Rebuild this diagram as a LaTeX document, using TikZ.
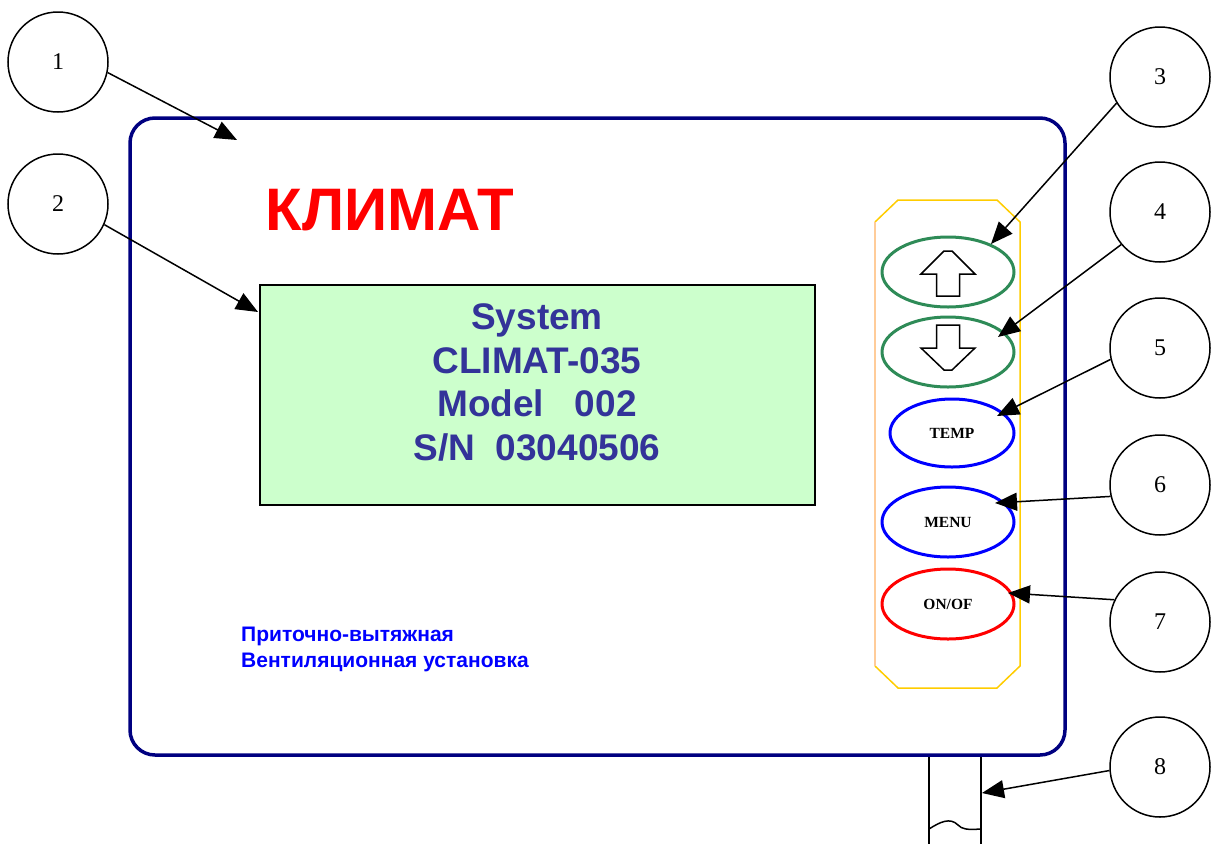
\documentclass[tikz,border=0pt]{standalone}
\usepackage{fontspec}
\setmainfont{Liberation Serif}
\setsansfont{Liberation Sans}
\usepackage{tikz}
\usetikzlibrary{shapes}
\usetikzlibrary{arrows.meta, positioning}
\definecolor{framenavy}{RGB}{0,0,128}
\definecolor{lcdgreen}{RGB}{204,255,204}
\definecolor{lcdblue}{RGB}{51,51,153}
\definecolor{keygreen}{RGB}{46,139,87}
\definecolor{panelgold}{RGB}{255,204,0}
\definecolor{panelpeach}{RGB}{255,204,153}

\begin{document}
\begin{tikzpicture}[x=1pt, y=-1pt,
    every path/.style = {},
    every node/.append style = {inner sep=0pt},
    callout/.style = {draw, circle, line width=1.5pt, minimum size=100pt,
      font=\fontsize{24}{28}\selectfont},
    pointer/.style = {line width=1.5pt, -{Triangle[length=22pt, width=18pt]}},
    key/.style = {draw, ellipse, line width=3pt, minimum width=132pt,
      minimum height=70pt, font=\bfseries\fontsize{15.5}{18}\selectfont}
  ]
 \useasboundingbox (0,0) rectangle (1213,844);

 % cable leaving the case
    \draw[line width=1.5pt] (929,755) -- (929,844);
    \draw[line width=1.5pt] (981,755) -- (981,844);
    \draw[line width=1.5pt] (929,829) .. controls (940,822) and (950,817) .. (958,825)
      .. controls (962,829) and (966,830) .. (981,829);

 % case
    \draw[framenavy, line width=3.5pt, rounded corners=25pt]
      (130,118) rectangle (1065,755);

    \node[red, font=\sffamily\bfseries\fontsize{60}{60}\selectfont] (brand) at (390,210) {КЛИМАТ};

 % display
    \node[draw, fill=lcdgreen, line width=1.5pt, minimum width=555pt,
      minimum height=220pt] (lcd) at (537.5,395) {};
    \node[lcdblue, align=center, font=\sffamily\bfseries\fontsize{37}{43.5}\selectfont]
      (lcdtext) at (537,382.5) {System\\CLIMAT-035\\Model\ \ \ 002\\S/N\ \ 03040506};

    \node[blue, anchor=north west, align=left,
      font=\sffamily\bfseries\fontsize{21}{26}\selectfont] (caption) at (241,627)
      {Приточно-вытяжная\\Вентиляционная установка};

 % key panel
    \draw[panelgold, line width=1.5pt] (875,222) -- (898,200) -- (997,200) -- (1020,222)
      -- (1020,666) -- (997,688) -- (898,688) -- (875,666);
    \draw[panelpeach, line width=1.5pt] (875,666) -- (875,222);

    \node[key, draw=keygreen] (up) at (948,272) {};
    \node[key, draw=keygreen] (down) at (948,352) {};
    \node[key, draw=blue, minimum width=124pt, minimum height=68pt] (temp) at (952,433) {TEMP};
    \node[key, draw=blue] (menu) at (948,522) {MENU};
    \node[key, draw=red] (onoff) at (948,604) {ON/OF};

    \draw[line width=1.5pt, shift={(up.center)}] (-4,-21) -- (4,-21) -- (27,2) -- (11.5,2)
      -- (11.5,24) -- (-11.5,24) -- (-11.5,2) -- (-27,2) -- cycle;
    \draw[line width=1.5pt, shift={(down.center)}] (-11.5,-27) -- (11.5,-27) -- (11.5,-4)
      -- (27,-4) -- (4,18) -- (-4,18) -- (-27,-4) -- (-11.5,-4) -- cycle;

 % callouts
    \node[callout] (c1) at (58,62) {1};
    \node[callout] (c2) at (58,204) {2};
    \node[callout] (c3) at (1160,77) {3};
    \node[callout] (c4) at (1160,212) {4};
    \node[callout] (c5) at (1160,348) {5};
    \node[callout] (c6) at (1160,485) {6};
    \node[callout] (c7) at (1160,622) {7};
    \node[callout] (c8) at (1160,767) {8};

    \coordinate (t1) at (237,140);
    \coordinate (t2) at (258,312);
    \coordinate (t3) at (991,244);
    \coordinate (t4) at (998,337);
    \coordinate (t5) at (997,416);
    \coordinate (t6) at (995,503);
    \coordinate (t7) at (1008,593);
    \coordinate (t8) at (982,793);

    \draw[pointer] (c1.-12) -- (t1);
    \draw[pointer] (c2.-24) -- (t2);
    \draw[pointer] (c3.211) -- (t3);
    \draw[pointer] (c4.220) -- (t4);
    \draw[pointer] (c5.193) -- (t5);
    \draw[pointer] (c6.193) -- (t6);
    \draw[pointer] (c7.154) -- (t7);
    \draw[pointer] (c8.184) -- (t8);
\end{tikzpicture}
\end{document}
